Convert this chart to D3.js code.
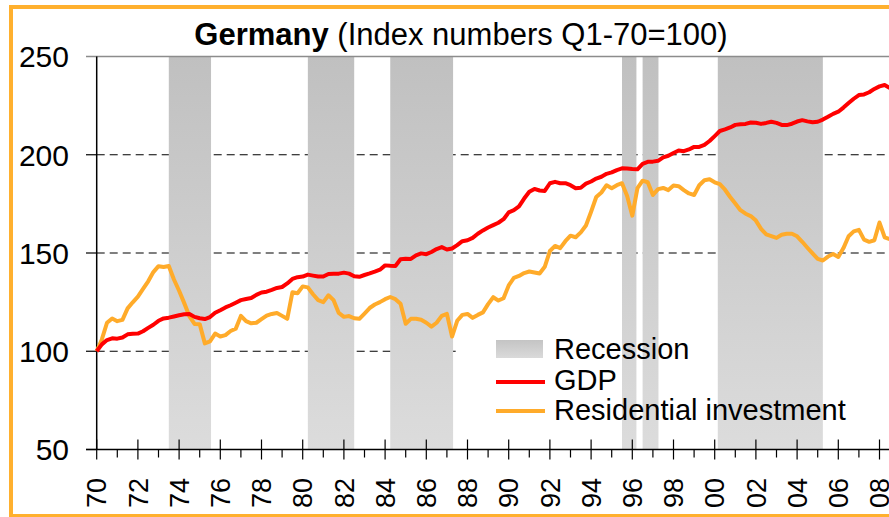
<!DOCTYPE html>
<html>
<head>
<meta charset="utf-8">
<script src="https://cdn.jsdelivr.net/npm/d3@7"></script>
<style>
  body { margin: 0; background: #fff; }
  text { font-family: "Liberation Sans", Arial, sans-serif; }
</style>
</head>
<body>
<div id="chart"></div>
<script>
// quarterly data, Q1 1970 .. Q3 2008, index Q1-70 = 100
var startYear = 1970;

var gdp = [
  100, 103.5, 105.7, 106.6, 106.4, 107.0, 108.6, 108.9, 109.0, 110.2,
  111.9, 113.5, 115.5, 116.7, 117.1, 117.7, 118.3, 118.8, 119.0, 117.5,
  116.8, 116.4, 117.4, 119.6, 120.9, 122.3, 123.4, 124.7, 126.0, 126.6,
  127.1, 128.7, 129.9, 130.3, 131.2, 132.2, 132.7, 134.5, 136.8, 137.7,
  138.0, 139.0, 138.5, 138.0, 138.0, 139.3, 139.4, 139.5, 140.0, 139.5,
  138.2, 137.9, 138.8, 139.6, 140.5, 141.5, 143.7, 143.5, 143.4, 146.8,
  147.1, 147.0, 148.8, 149.8, 149.4, 150.5, 152.0, 153.0, 151.8, 152.3,
  154.0, 156.0, 156.5, 157.7, 159.8, 161.5, 163.0, 164.2, 165.4, 167.2,
  170.7, 171.8, 173.7, 177.7, 181.2, 182.6, 181.8, 181.6, 185.5, 186.2,
  185.5, 185.5, 184.5, 183.0, 183.2, 185.3, 186.4, 187.9, 188.8, 190.3,
  191.0, 192.2, 193.1, 193.0, 192.7, 192.6, 195.4, 196.4, 196.5, 196.9,
  198.7, 199.5, 200.9, 202.2, 201.8, 202.7, 204.0, 204.0, 205.0, 207.0,
  209.5, 212.1, 212.9, 213.9, 215.2, 215.5, 215.7, 216.4, 216.3, 215.7,
  216.2, 216.8, 216.2, 215.2, 215.1, 215.8, 216.9, 217.6, 217.0, 216.5,
  216.8, 217.9, 219.3, 220.8, 221.9, 224.0, 226.3, 228.5, 230.4, 230.7,
  231.8, 233.5, 234.8, 235.5, 234.0
];

var resInv = [
  100, 106, 114.5, 116.7, 115.3, 116, 121.8, 124.9, 127.8, 131.7,
  135.6, 140.3, 143.3, 142.9, 143.4, 136.5, 130.8, 124.5, 117.8, 113.9,
  113.8, 104, 105, 109, 107.5, 108.2, 110.3, 111.5, 118, 115.3,
  114.2, 114.5, 116.3, 118.1, 119, 119.5, 118, 116.5, 130, 129.5,
  133, 132.5, 129, 126, 125, 128.5, 126, 119.5, 117.5, 117.9,
  116.8, 116.5, 119.2, 122, 123.8, 125, 126.5, 127.6, 126.5, 124.2,
  114, 116.5, 116.5, 116, 114.5, 112.5, 114.5, 118, 119, 107.5,
  115.5, 118.5, 119, 117, 118.5, 119.8, 124, 127.5, 125.8, 127,
  133.5, 137.3, 138.3, 139.8, 140.6, 140.1, 139.6, 143, 151, 153.6,
  152.5, 156, 158.8, 158, 160.5, 164, 171, 178.5, 180.8, 184.5,
  183, 184.5, 185.5, 179, 169, 183, 186.8, 186, 179.5, 182.5,
  183.1, 182, 184.3, 184, 182, 180.3, 179.5, 184.5, 187, 187.5,
  186, 185, 182.2, 178.5, 175.2, 171.8, 170, 168.8, 166.5, 162.3,
  159.5, 158.6, 157.7, 159.3, 159.8, 159.8, 158.5, 155.7, 152.7, 149.8,
  147, 146.2, 148.2, 149.5, 148, 152.5, 158.5, 161, 161.8, 156.8,
  155.7, 156.5, 165.5, 158, 157
];

var recessionStart = [1973.5, 1980.25, 1984.25, 1995.5, 1996.5, 2000.15];
var recessionEnd   = [1975.55, 1982.5, 1987.3, 1996.2, 1997.27, 2005.25];

var yTicks = [50, 100, 150, 200, 250];
var yearTicks = d3.range(1970, 2010, 2);
var minorTicks = d3.range(1970, 2010, 1);
var yearLabels = yearTicks.map(function (y) { return String(y % 100).padStart(2, "0"); });

var w = 889, h = 517;

var svg = d3.select("#chart")
  .append("svg")
  .attr("width", w)
  .attr("height", h);

var defs = svg.append("defs");
var grad = defs.append("linearGradient")
  .attr("id", "recGrad")
  .attr("x1", 0).attr("y1", 0).attr("x2", 0).attr("y2", 1);
grad.append("stop").attr("offset", "0%").attr("stop-color", "#c0c0c0");
grad.append("stop").attr("offset", "100%").attr("stop-color", "#dcdcdc");

var legGrad = defs.append("linearGradient")
  .attr("id", "legGrad")
  .attr("x1", 0).attr("y1", 0).attr("x2", 0).attr("y2", 1);
legGrad.append("stop").attr("offset", "0%").attr("stop-color", "#c4c4c4");
legGrad.append("stop").attr("offset", "100%").attr("stop-color", "#dadada");

var x = d3.scaleLinear().domain([1970, 2009]).range([96.7, 96.7 + 39 * 20.6]);
var y = d3.scaleLinear().domain([50, 250]).range([449.5, 56.5]);

// orange frame
svg.append("rect")
  .attr("x", 11).attr("y", 7)
  .attr("width", 920).attr("height", 509)
  .attr("fill", "none")
  .attr("stroke", "#ffb02e")
  .attr("stroke-width", 4);

// title
var title = svg.append("text")
  .attr("x", 461)
  .attr("y", 45)
  .attr("text-anchor", "middle")
  .attr("font-size", "31px")
  .attr("fill", "#000");
title.append("tspan").attr("font-weight", "bold").text("Germany");
title.append("tspan").text(" (Index numbers Q1-70=100)");

// dashed gridlines
svg.selectAll(".grid")
  .data(yTicks.filter(function (d) { return d > 50 && d < 250; }))
  .enter()
  .append("line")
  .attr("class", "grid")
  .attr("x1", x(1970)).attr("x2", w)
  .attr("y1", function (d) { return y(d); })
  .attr("y2", function (d) { return y(d); })
  .attr("stroke", "#000")
  .attr("stroke-width", 1.2)
  .attr("stroke-dasharray", "8,5");

// legend background hides the gridline behind it
svg.append("rect")
  .attr("x", 457).attr("y", 334)
  .attr("width", 432).attr("height", 92)
  .attr("fill", "#fff");

// recessions
svg.selectAll(".rec")
  .data(recessionStart)
  .enter()
  .append("rect")
  .attr("class", "rec")
  .attr("x", function (d) { return x(d); })
  .attr("width", function (d, i) { return x(recessionEnd[i]) - x(d); })
  .attr("y", y(250))
  .attr("height", y(50) - y(250))
  .attr("fill", "url(#recGrad)");

// top border of plot
svg.append("line")
  .attr("x1", 86).attr("x2", w)
  .attr("y1", y(250)).attr("y2", y(250))
  .attr("stroke", "#8c8c8c")
  .attr("stroke-width", 1.5);

// y axis
svg.append("line")
  .attr("x1", x(1970)).attr("x2", x(1970))
  .attr("y1", y(250)).attr("y2", y(50))
  .attr("stroke", "#000")
  .attr("stroke-width", 1.5);

svg.selectAll(".ytick")
  .data(yTicks.filter(function (d) { return d < 250; }))
  .enter()
  .append("line")
  .attr("x1", 86).attr("x2", x(1970))
  .attr("y1", function (d) { return y(d); })
  .attr("y2", function (d) { return y(d); })
  .attr("stroke", "#000")
  .attr("stroke-width", 1.2);

svg.selectAll(".ylab")
  .data(yTicks)
  .enter()
  .append("text")
  .attr("class", "ylab")
  .attr("x", 69)
  .attr("y", function (d) { return y(d); })
  .attr("dy", "0.36em")
  .attr("text-anchor", "end")
  .attr("font-size", "30px")
  .attr("fill", "#000")
  .text(function (d) { return d; });

// x axis
svg.append("line")
  .attr("x1", 86).attr("x2", w)
  .attr("y1", y(50)).attr("y2", y(50))
  .attr("stroke", "#000")
  .attr("stroke-width", 1.5);

svg.selectAll(".minor")
  .data(minorTicks.filter(function (d) { return d % 2 == 1; }))
  .enter()
  .append("line")
  .attr("x1", function (d) { return x(d); })
  .attr("x2", function (d) { return x(d); })
  .attr("y1", y(50)).attr("y2", y(50) + 8)
  .attr("stroke", "#000")
  .attr("stroke-width", 1.2);

svg.selectAll(".major")
  .data(yearTicks)
  .enter()
  .append("line")
  .attr("x1", function (d) { return x(d); })
  .attr("x2", function (d) { return x(d); })
  .attr("y1", y(50) - 10).attr("y2", y(50) + 10)
  .attr("stroke", "#000")
  .attr("stroke-width", 1.2);

svg.selectAll(".xlab")
  .data(yearTicks)
  .enter()
  .append("text")
  .attr("class", "xlab")
  .attr("transform", function (d) { return "translate(" + x(d) + ",478) rotate(-90)"; })
  .attr("dy", "0.36em")
  .attr("text-anchor", "end")
  .attr("font-size", "27px")
  .attr("fill", "#000")
  .text(function (d, i) { return yearLabels[i]; });

// series
var line = d3.line()
  .x(function (d, i) { return x(startYear + i / 4); })
  .y(function (d) { return y(d); });

svg.append("path")
  .datum(resInv)
  .attr("d", line)
  .attr("fill", "none")
  .attr("stroke", "#ffab2a")
  .attr("stroke-width", 4)
  .attr("stroke-linejoin", "round");

svg.append("path")
  .datum(gdp)
  .attr("d", line)
  .attr("fill", "none")
  .attr("stroke", "#ff0000")
  .attr("stroke-width", 4)
  .attr("stroke-linejoin", "round");

// legend
var legend = svg.append("g");
legend.append("rect")
  .attr("x", 496).attr("y", 340)
  .attr("width", 47).attr("height", 18)
  .attr("fill", "url(#legGrad)");
legend.append("line")
  .attr("x1", 496).attr("x2", 545)
  .attr("y1", 382).attr("y2", 382)
  .attr("stroke", "#ff0000").attr("stroke-width", 4);
legend.append("line")
  .attr("x1", 496).attr("x2", 545)
  .attr("y1", 411).attr("y2", 411)
  .attr("stroke", "#ffab2a").attr("stroke-width", 4);

var legendLabels = ["Recession", "GDP", "Residential investment"];
legend.selectAll("text")
  .data(legendLabels)
  .enter()
  .append("text")
  .attr("x", 554)
  .attr("y", function (d, i) { return 359 + i * 30.5; })
  .attr("font-size", "29px")
  .attr("fill", "#000")
  .text(function (d) { return d; });
</script>
</body>
</html>
